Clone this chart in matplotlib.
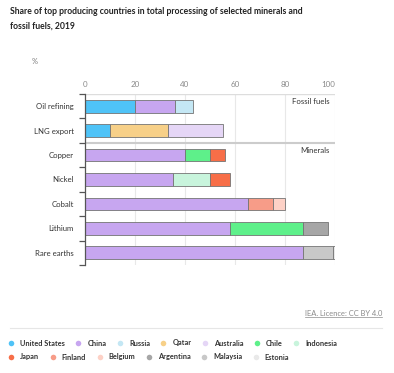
import matplotlib
matplotlib.use('Agg')
import matplotlib.pyplot as plt
import numpy as np

plt.rcParams['font.family'] = ['Lato', 'DejaVu Sans']

categories = ['Oil refining', 'LNG export', 'Copper', 'Nickel', 'Cobalt', 'Lithium', 'Rare earths']
countries = ['United States', 'China', 'Russia', 'Qatar', 'Australia', 'Chile', 'Indonesia',
             'Japan', 'Finland', 'Belgium', 'Argentina', 'Malaysia', 'Estonia']
colors = ['#4fc3f7', '#c7a6f0', '#c4e7f4', '#f7d088', '#e5d6f6', '#5ef08a', '#c8f4dc',
          '#f76e48', '#f79c88', '#fdd1c6', '#a6a6a6', '#c8c8c8', '#e9e9e9']

# share (%) per country for each category
united_states = [20, 10, 0, 0, 0, 0, 0]
china = [16, 0, 40, 35, 65, 58, 87]
russia = [7, 0, 0, 0, 0, 0, 0]
qatar = [0, 23, 0, 0, 0, 0, 0]
australia = [0, 22, 0, 0, 0, 0, 0]
chile = [0, 0, 10, 0, 0, 29, 0]
indonesia = [0, 0, 0, 15, 0, 0, 0]
japan = [0, 0, 6, 8, 0, 0, 0]
finland = [0, 0, 0, 0, 10, 0, 0]
belgium = [0, 0, 0, 0, 5, 0, 0]
argentina = [0, 0, 0, 0, 0, 10, 0]
malaysia = [0, 0, 0, 0, 0, 0, 12]
estonia = [0, 0, 0, 0, 0, 0, 1]

shares = [united_states, china, russia, qatar, australia, chile, indonesia,
          japan, finland, belgium, argentina, malaysia, estonia]

xticks = [0, 20, 40, 60, 80, 100]

fig = plt.figure(figsize=(3.94, 3.73), dpi=100)
ax = fig.add_axes([85/394, 1-265/373, 250/394, 171/373])

y = np.arange(len(categories))
left = np.zeros(len(categories))
for vals, col in zip(shares, colors):
    vals = np.array(vals, dtype=float)
    m = vals > 0
    ax.barh(y[m], vals[m], left=left[m], height=0.52, color=col,
            edgecolor='#747474', linewidth=0.6, zorder=3)
    left += vals

ax.set_xlim(0, 100)
ax.set_ylim(6.5, -0.5)
ax.set_xticks(xticks)
ax.xaxis.tick_top()
ax.tick_params(axis='x', length=0, labelsize=5.8, labelcolor='#8a8a8a', pad=4)
ax.get_xticklabels()[-1].set_horizontalalignment('right')
ax.set_yticks(y)
ax.set_yticklabels(categories)
ax.tick_params(axis='y', which='major', length=0, labelsize=5.6, labelcolor='#333333', pad=8)
ax.set_yticks(np.arange(-0.5, 7, 1), minor=True)
ax.tick_params(axis='y', which='minor', length=4, width=0.9, color='#555555', direction='out')

for s in ['top', 'right', 'bottom']:
    ax.spines[s].set_visible(False)
ax.spines['left'].set_color('#555555')
ax.spines['left'].set_linewidth(0.9)
ax.spines['left'].set_zorder(5)

for xv in xticks[1:]:
    ax.axvline(xv, color='#e8e8e8', lw=0.8, zorder=1)
ax.axhline(-0.5, color='#dddddd', lw=1.0, zorder=2)
ax.axhline(1.5, color='#cccccc', lw=1.5, zorder=2)

ax.text(98, -0.2, 'Fossil fuels', ha='right', va='center', fontsize=5.6, color='#333333')
ax.text(98, 1.8, 'Minerals', ha='right', va='center', fontsize=5.6, color='#333333')

fig.text(10/394, 1-12/373, 'Share of top producing countries in total processing of selected minerals and',
         fontsize=6.2, fontweight='bold', color='#222222', va='center')
fig.text(10/394, 1-26/373, 'fossil fuels, 2019',
         fontsize=6.2, fontweight='bold', color='#222222', va='center')
fig.text(32/394, 1-62/373, '%', fontsize=5.3, color='#777777', va='center')

# source
src = fig.text(382/394, 1-314/373, 'IEA. Licence: CC BY 4.0', fontsize=5.4, color='#8a8a8a',
               ha='right', va='center')
fig.canvas.draw()
r = fig.canvas.get_renderer()
bb = src.get_window_extent(r)
fig.add_artist(plt.Line2D([bb.x0/394, bb.x1/394], [(bb.y0+0.5)/373]*2, color='#8a8a8a', lw=0.5))

fig.add_artist(plt.Line2D([10/394, 382/394], [1-328/373]*2, color='#e6e6e6', lw=0.8))

# legend, two rows of flowing entries
rows_y = [343, 357]
per_row = 7
x = 11
for i, (name, col) in enumerate(zip(countries, colors)):
    if i == per_row:
        x = 11
    yy = 1 - rows_y[i // per_row]/373
    t = fig.text((x+9)/394, yy, name, fontsize=5.3, fontweight='bold',
                 color='#333333', va='center')
    w = t.get_window_extent(r).width
    fig.add_artist(plt.Line2D([x/394], [yy], marker='o', ms=4,
                              color=col, mec='none', lw=0))
    x += 9 + w + 13.5

fig.savefig('out.png', dpi=100)
